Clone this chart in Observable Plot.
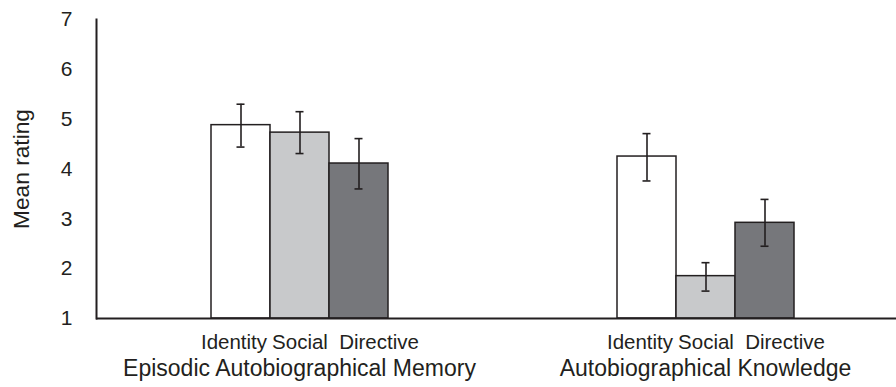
<!DOCTYPE html>
<html>
<head>
<meta charset="utf-8">
<script src="https://cdn.jsdelivr.net/npm/d3@7"></script>
<script src="https://cdn.jsdelivr.net/npm/@observablehq/plot@0.6"></script>
<style>
  html, body { margin: 0; padding: 0; background: #fff; }
  #chart svg { display: block; }
</style>
</head>
<body>
<div id="chart"></div>
<script>
const groups = ["Episodic Autobiographical Memory", "Autobiographical Knowledge"];
const categories = ["Identity", "Social", "Directive"];
const meanEpisodic = [4.88, 4.73, 4.11];
const meanKnowledge = [4.25, 1.85, 2.92];
const lowEpisodic = [4.44, 4.31, 3.60];
const highEpisodic = [5.30, 5.15, 4.61];
const lowKnowledge = [3.76, 1.55, 2.45];
const highKnowledge = [4.71, 2.12, 3.39];
const yTicks = [1, 2, 3, 4, 5, 6, 7];
const colors = ["#ffffff", "#c8c9cb", "#76777b"];

const rows = [];
categories.forEach((c, i) => {
  rows.push({group: groups[0], cat: c, mean: meanEpisodic[i], lo: lowEpisodic[i], hi: highEpisodic[i]});
});
categories.forEach((c, i) => {
  rows.push({group: groups[1], cat: c, mean: meanKnowledge[i], lo: lowKnowledge[i], hi: highKnowledge[i]});
});

const ink = "#231f20";
// horizontal nudges of the category labels (style only)
const labelShift = {Identity: -7, Social: 0, Directive: 20};

const chart = Plot.plot({
  width: 896,
  height: 387,
  marginLeft: 96,
  marginRight: -12,
  marginTop: 19,
  marginBottom: 69,
  style: {fontFamily: "'Liberation Sans', Arial, sans-serif", color: ink, background: "#fff"},
  fx: {domain: groups, padding: 0},
  x: {domain: categories, paddingInner: 0, paddingOuter: 1.9},
  y: {domain: [1, 7]},
  color: {domain: categories, range: colors},
  marks: [
    Plot.barY(rows, {fx: "group", x: "cat", y1: 1, y2: "mean", fill: "cat", stroke: ink, strokeWidth: 1.5}),
    Plot.ruleX(rows, {fx: "group", x: "cat", y1: "lo", y2: "hi", stroke: ink, strokeWidth: 1.6}),
    Plot.tickY(rows, {fx: "group", x: "cat", y: "lo", stroke: ink, strokeWidth: 1.6, insetLeft: 25.5, insetRight: 25.5}),
    Plot.tickY(rows, {fx: "group", x: "cat", y: "hi", stroke: ink, strokeWidth: 1.6, insetLeft: 25.5, insetRight: 25.5}),
    Plot.ruleY([1], {stroke: ink, strokeWidth: 2}),
    Plot.frame({anchor: "left", facetAnchor: "left", stroke: ink, strokeWidth: 2}),
    Plot.axisY({ticks: yTicks, tickFormat: "d", tickSize: 0, tickPadding: 24, fontSize: 21, label: null}),
    Plot.axisY({ticks: [], tickSize: 0, fontSize: 22.7, label: "Mean rating", labelAnchor: "center", labelArrow: "none", labelOffset: 84}),
    ...categories.map(c => Plot.axisX({ticks: [c], tickSize: 0, tickPadding: 16, fontSize: 20.5, label: null, dx: labelShift[c]})),
    Plot.axisFx({anchor: "bottom", tickSize: 0, tickPadding: 41, fontSize: 23, label: null})
  ]
});
document.getElementById("chart").appendChild(chart);
</script>
</body>
</html>
